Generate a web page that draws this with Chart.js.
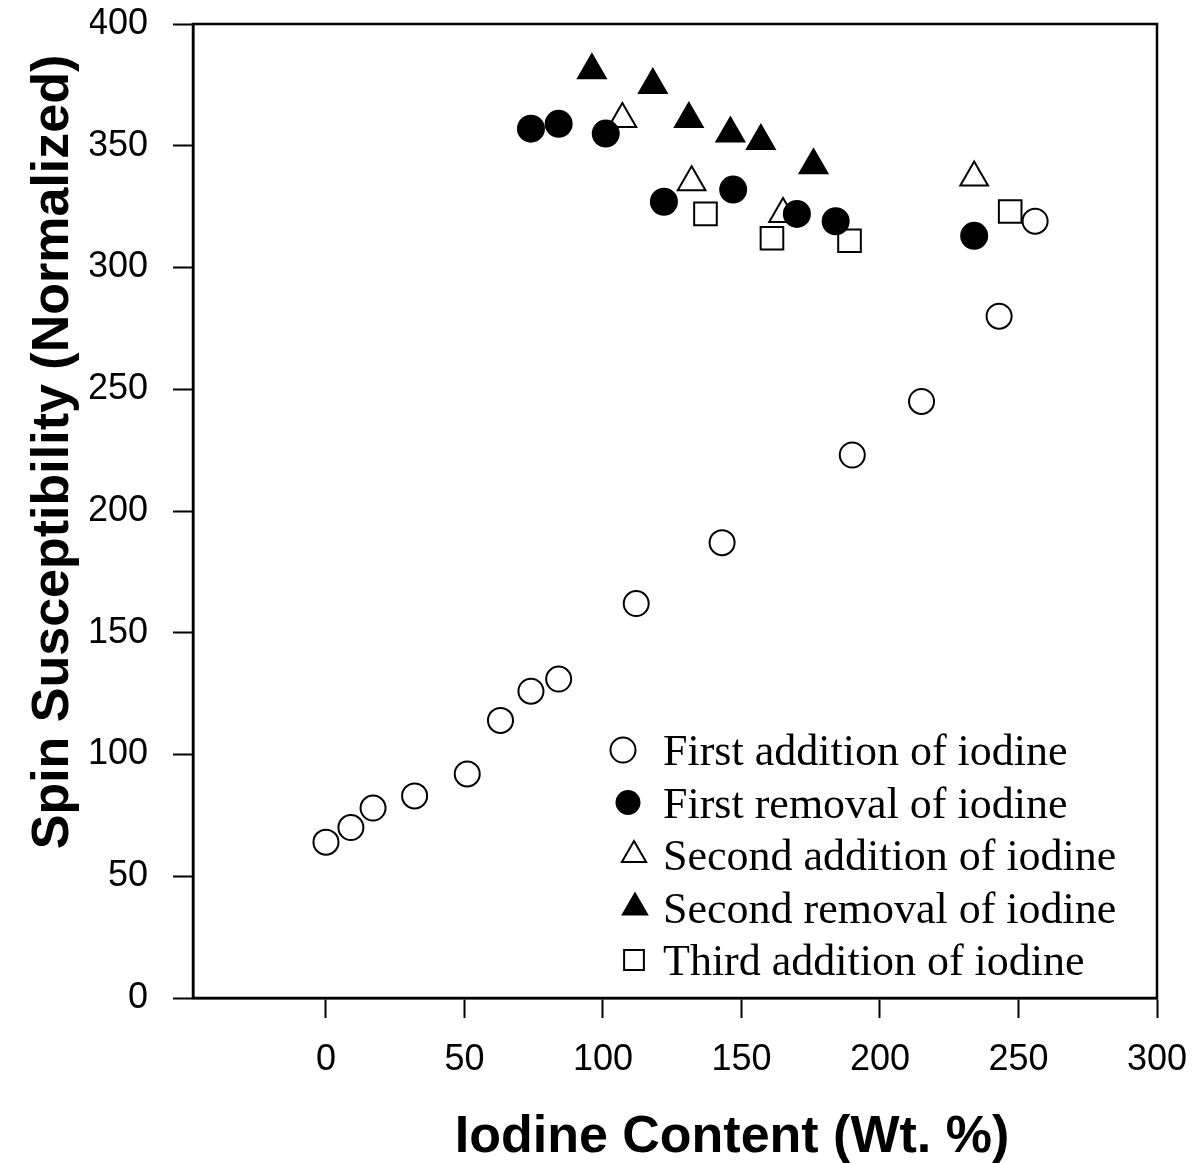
<!DOCTYPE html>
<html>
<head>
<meta charset="utf-8">
<title>Spin Susceptibility vs Iodine Content</title>
<script src="https://cdn.jsdelivr.net/npm/chart.js@4.4.1/dist/chart.umd.min.js"></script>
<style>
  html, body { margin: 0; padding: 0; background: #fff; }
  #wrap { width: 1194px; height: 1163px; }
</style>
</head>
<body>
<div id="wrap"><canvas id="chart" width="1194" height="1163"></canvas></div>
<script>
// ---- data ----
const xTicks = [0, 50, 100, 150, 200, 250, 300];
const yTicks = [0, 50, 100, 150, 200, 250, 300, 350, 400];

const seriesLabels = [
    "First addition of iodine",
    "First removal of iodine",
    "Second addition of iodine",
    "Second removal of iodine",
    "Third addition of iodine",
];

const firstAddX = [0, 9, 17, 32, 51, 63, 74, 84, 112, 143, 190, 215, 243, 256];
const firstAddY = [64, 70, 78, 83, 92, 114, 126, 131, 162, 187, 223, 245, 280, 319];

const firstRemX = [74, 84, 101, 122, 147, 170, 184, 234];
const firstRemY = [357, 359, 355, 327, 332, 322, 319, 313];

const secondAddX = [107, 132, 165, 234];
const secondAddY = [361, 335, 322, 337];

const secondRemX = [96, 118, 131, 146, 157, 176];
const secondRemY = [381, 375, 361, 355, 352, 342];

const thirdAddX = [137, 161, 189, 247];
const thirdAddY = [322, 312, 311, 323];

const xTitle = "Iodine Content (Wt. %)";
const yTitle = "Spin Susceptibility (Normalized)";

// zip two arrays into {x,y} points
function pts(xs, ys) {
    return xs.map((x, i) => ({ x, y: ys[i] }));
}

const SANS = "'Liberation Sans', Arial, Helvetica, sans-serif";
const SERIF = "'Liberation Serif', 'Times New Roman', serif";

// marker looks: open = white fill + black outline, filled = solid black
const styles = [
    { pointStyle: "circle",   radius: 12.5, fill: "#fff", legendRadius: 12.5, legendX: 623 },
    { pointStyle: "circle",   radius: 13,   fill: "#000", legendRadius: 11.5, legendX: 628 },
    { pointStyle: "triangle", radius: 16,   fill: "#fff", legendRadius: 14,   legendX: 634 },
    { pointStyle: "triangle", radius: 16,   fill: "#000", legendRadius: 14,   legendX: 635 },
    { pointStyle: "rect",     radius: 16,   fill: "#fff", legendRadius: 14,   legendX: 634 },
];

const allSeries = [
    pts(firstAddX, firstAddY),
    pts(firstRemX, firstRemY),
    pts(secondAddX, secondAddY),
    pts(secondRemX, secondRemY),
    pts(thirdAddX, thirdAddY),
];

const datasets = allSeries.map((data, i) => ({
    label: seriesLabels[i],
    data,
    showLine: false,
    pointStyle: styles[i].pointStyle,
    pointRadius: styles[i].radius,
    pointHoverRadius: styles[i].radius,
    pointBackgroundColor: styles[i].fill,
    pointBorderColor: "#000",
    pointBorderWidth: 2,
}));

// box around the plot (top + right sides come from here)
const framePlugin = {
    id: "frame",
    afterDatasetsDraw(chart) {
        const { ctx, chartArea: a } = chart;
        ctx.save();
        ctx.strokeStyle = "#000";
        ctx.lineWidth = 2.5;
        ctx.strokeRect(a.left, a.top, a.right - a.left, a.bottom - a.top);
        ctx.restore();
    },
};

// big bold axis titles, placed like the original figure
const titlesPlugin = {
    id: "axisTitles",
    afterDraw(chart) {
        const { ctx } = chart;
        ctx.save();
        ctx.fillStyle = "#000";
        ctx.font = "bold 52px " + SANS;
        ctx.textAlign = "center";
        ctx.textBaseline = "alphabetic";
        ctx.fillText(xTitle, 732, 1152);

        ctx.translate(68, 452);
        ctx.rotate(-Math.PI / 2);
        ctx.fillText(yTitle, 0, 0);
        ctx.restore();
    },
};

// legend inside the plot, lower right, serif text
const legendPlugin = {
    id: "insideLegend",
    afterDraw(chart) {
        const { ctx } = chart;
        const textX = 663;
        const firstBaseline = 765;
        const rowGap = 52.5;
        ctx.save();
        ctx.font = "44px " + SERIF;
        ctx.textAlign = "left";
        ctx.textBaseline = "alphabetic";
        chart.data.datasets.forEach((ds, i) => {
            const base = firstBaseline + i * rowGap;
            const cy = base - 15;
            ctx.fillStyle = styles[i].fill;
            ctx.strokeStyle = "#000";
            ctx.lineWidth = 2;
            Chart.helpers.drawPoint(ctx, {
                pointStyle: styles[i].pointStyle,
                radius: styles[i].legendRadius,
                rotation: 0,
                borderWidth: 2,
            }, styles[i].legendX, cy);
            ctx.fillStyle = "#000";
            ctx.fillText(ds.label, textX, base);
        });
        ctx.restore();
    },
};

const ctx = document.getElementById("chart").getContext("2d");
new Chart(ctx, {
    type: "scatter",
    data: { datasets },
    options: {
        responsive: false,
        animation: false,
        layout: { padding: { left: 90, right: 37, top: 24, bottom: 82 } },
        plugins: {
            legend: { display: false },
            tooltip: { enabled: false },
        },
        scales: {
            x: {
                type: "linear",
                min: -48,
                max: 300,
                afterBuildTicks: (s) => { s.ticks = xTicks.map((v) => ({ value: v })); },
                // fixed height, and no extra room for the end labels
                afterFit: (s) => { s.height = 83; s.paddingLeft = 0; s.paddingRight = 0; },
                grid: {
                    drawOnChartArea: false,
                    drawTicks: true,
                    tickLength: 20,
                    tickWidth: 2,
                    tickColor: "#000",
                },
                border: { display: true, color: "#000", width: 2.5 },
                ticks: {
                    color: "#000",
                    font: { family: SANS, size: 36 },
                    padding: 20,
                    maxRotation: 0,
                },
                title: { display: false },
            },
            y: {
                type: "linear",
                min: 0,
                max: 400,
                afterBuildTicks: (s) => { s.ticks = yTicks.map((v) => ({ value: v })); },
                afterFit: (s) => { s.width = 103; s.paddingTop = 0; s.paddingBottom = 0; },
                grid: {
                    drawOnChartArea: false,
                    drawTicks: true,
                    tickLength: 20,
                    tickWidth: 2,
                    tickColor: "#000",
                },
                border: { display: true, color: "#000", width: 2.5 },
                ticks: {
                    color: "#000",
                    font: { family: SANS, size: 36 },
                    padding: 25,
                },
                title: { display: false },
            },
        },
    },
    plugins: [framePlugin, titlesPlugin, legendPlugin],
});
</script>
</body>
</html>
